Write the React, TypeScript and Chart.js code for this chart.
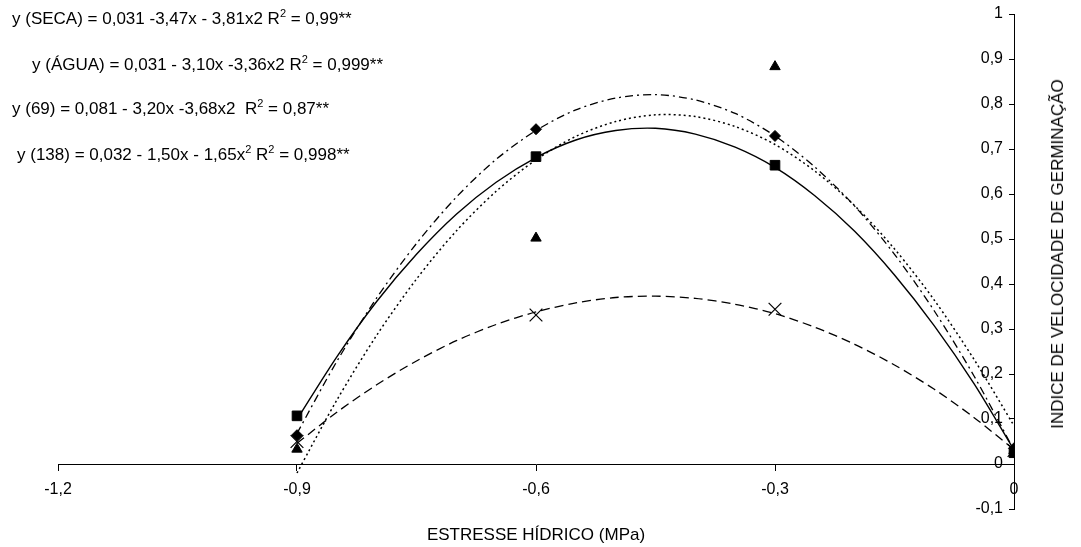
import React, { useEffect, useRef } from "react";
import { Chart, registerables } from "chart.js";

Chart.register(...registerables);

// Observed points (markers)
const pointX = [-0.9, -0.6, -0.3, 0];
const secaPts = [0.064, 0.744, 0.729, 0.035];
const aguaPts = [0.107, 0.683, 0.664, 0.025];
const pts69 = [0.033, 0.502, 0.883, 0.03];
const pts138 = [0.05, 0.331, 0.344, 0.03];

// Trend curves
const curveX = [-0.9, -0.85, -0.8, -0.75, -0.7, -0.65, -0.6, -0.55, -0.5, -0.45, -0.4, -0.35, -0.3, -0.25, -0.2, -0.15, -0.1, -0.05, 0];
const secaCurve = [0.068, 0.228, 0.369, 0.49, 0.593, 0.677, 0.741, 0.787, 0.813, 0.821, 0.809, 0.779, 0.729, 0.66, 0.573, 0.466, 0.34, 0.195, 0.031];
const aguaCurve = [0.099, 0.238, 0.361, 0.466, 0.555, 0.626, 0.681, 0.72, 0.741, 0.746, 0.733, 0.704, 0.659, 0.596, 0.517, 0.42, 0.307, 0.178, 0.031];
const curve69 = [-0.02, 0.142, 0.286, 0.411, 0.518, 0.606, 0.676, 0.728, 0.761, 0.776, 0.772, 0.75, 0.71, 0.651, 0.574, 0.478, 0.364, 0.232, 0.085];
const curve138 = [0.046, 0.115, 0.176, 0.229, 0.274, 0.31, 0.338, 0.358, 0.37, 0.373, 0.368, 0.355, 0.334, 0.304, 0.266, 0.22, 0.166, 0.103, 0.032];

// Ticks
const xTickValues = [-1.2, -0.9, -0.6, -0.3, 0];
const xTickLabels = ["-1,2", "-0,9", "-0,6", "-0,3", "0"];
const yTickValues = [-0.1, 0, 0.1, 0.2, 0.3, 0.4, 0.5, 0.6, 0.7, 0.8, 0.9, 1];
const yTickLabels = ["-0,1", "0", "0,1", "0,2", "0,3", "0,4", "0,5", "0,6", "0,7", "0,8", "0,9", "1"];

const xTitle = "ESTRESSE HÍDRICO (MPa)";
const yTitle = "INDICE DE VELOCIDADE DE GERMINAÇÃO";

const FONT = "'Liberation Sans', Arial, Helvetica, sans-serif";

const toXY = (xs: number[], ys: number[]) => xs.map((x, i) => ({ x, y: ys[i] }));

const Sup = ({ children }: { children: React.ReactNode }) => (
  <span style={{ fontSize: "11px", position: "relative", top: "-7px" }}>{children}</span>
);

export default function App() {
  const ref = useRef<HTMLCanvasElement | null>(null);

  useEffect(() => {
    if (!ref.current) return;
    const curveBase = {
      showLine: true,
      pointRadius: 0,
      pointHoverRadius: 0,
      borderColor: "#000",
      backgroundColor: "#000",
      tension: 0.3,
      fill: false,
      order: 2,
    };
    const markerBase = {
      showLine: false,
      borderColor: "#000",
      backgroundColor: "#000",
      borderWidth: 1,
      order: 1,
    };
    const chart = new Chart(ref.current, {
      type: "scatter",
      data: {
        datasets: [
          { ...curveBase, label: "SECA curve", data: toXY(curveX, secaCurve), borderWidth: 1.3, borderDash: [8, 4, 2, 4] },
          { ...curveBase, label: "ÁGUA curve", data: toXY(curveX, aguaCurve), borderWidth: 1.4 },
          { ...curveBase, label: "69 curve", data: toXY(curveX, curve69), borderWidth: 1.5, borderDash: [2, 3] },
          { ...curveBase, label: "138 curve", data: toXY(curveX, curve138), borderWidth: 1.3, borderDash: [9, 5] },
          { ...markerBase, label: "SECA", data: toXY(pointX, secaPts), pointStyle: "rectRot", pointRadius: 5.5 },
          { ...markerBase, label: "69", data: toXY(pointX, pts69), pointStyle: "triangle", pointRadius: 6 },
          { ...markerBase, label: "138", data: toXY(pointX, pts138), pointStyle: "crossRot", pointRadius: 9, borderWidth: 1.2 },
          { ...markerBase, label: "ÁGUA", data: toXY(pointX, aguaPts), pointStyle: "rect", pointRadius: 6.8 },
        ],
      },
      options: {
        animation: false,
        responsive: false,
        maintainAspectRatio: false,
        layout: { padding: { left: 58, right: 67, top: 14, bottom: 38 } },
        plugins: { legend: { display: false }, tooltip: { enabled: false }, title: { display: false } },
        scales: {
          x: {
            type: "linear",
            min: -1.2,
            max: 0,
            position: { y: 0 } as any,
            afterBuildTicks: (scale: any) => {
              scale.ticks = xTickValues.map((v) => ({ value: v }));
            },
            grid: { drawOnChartArea: false, color: "#000", tickLength: 6, lineWidth: 1 },
            border: { display: true, color: "#000", width: 1 },
            ticks: {
              color: "#000",
              font: { family: FONT, size: 16 },
              padding: 10,
              maxRotation: 0,
              autoSkip: false,
              callback: (_v: any, i: number) => xTickLabels[i],
            },
          },
          y: {
            type: "linear",
            min: -0.1,
            max: 1,
            position: "right",
            afterBuildTicks: (scale: any) => {
              scale.ticks = yTickValues.map((v) => ({ value: v }));
            },
            afterFit: (scale: any) => {
              scale.width = 0;
            },
            grid: { drawOnChartArea: false, color: "#000", tickLength: -5, lineWidth: 1 },
            border: { display: true, color: "#000", width: 1 },
            ticks: {
              color: "#000",
              font: { family: FONT, size: 16 },
              mirror: true,
              padding: -11,
              autoSkip: false,
              callback: (_v: any, i: number) => yTickLabels[i],
            },
          },
        },
      },
    });
    return () => chart.destroy();
  }, []);

  const eqStyle: React.CSSProperties = {
    position: "absolute",
    fontFamily: FONT,
    fontSize: "17px",
    lineHeight: "18px",
    whiteSpace: "pre",
    color: "#000",
  };

  return (
    <div style={{ position: "absolute", left: 0, top: 0, width: 1081, height: 547, background: "#fff" }}>
      <canvas ref={ref} width={1081} height={547} style={{ position: "absolute", left: 0, top: 0 }} />
      <div style={{ ...eqStyle, left: 12, top: 10 }}>
        y (SECA) = 0,031 -3,47x - 3,81x2 R<Sup>2</Sup> = 0,99**
      </div>
      <div style={{ ...eqStyle, left: 32, top: 56 }}>
        y (ÁGUA) = 0,031 - 3,10x -3,36x2 R<Sup>2</Sup> = 0,999**
      </div>
      <div style={{ ...eqStyle, left: 12, top: 100 }}>
        y (69) = 0,081 - 3,20x -3,68x2  R<Sup>2</Sup> = 0,87**
      </div>
      <div style={{ ...eqStyle, left: 17, top: 146 }}>
        y (138) = 0,032 - 1,50x - 1,65x<Sup>2</Sup> R<Sup>2</Sup> = 0,998**
      </div>
      <div
        style={{
          position: "absolute",
          left: 536,
          top: 535,
          transform: "translate(-50%, -50%)",
          fontFamily: FONT,
          fontSize: "17px",
          whiteSpace: "nowrap",
          color: "#000",
        }}
      >
        {xTitle}
      </div>
      <div
        style={{
          position: "absolute",
          left: 1058,
          top: 254,
          transform: "translate(-50%, -50%) rotate(-90deg)",
          fontFamily: FONT,
          fontSize: "17px",
          whiteSpace: "nowrap",
          color: "#000",
        }}
      >
        {yTitle}
      </div>
    </div>
  );
}
